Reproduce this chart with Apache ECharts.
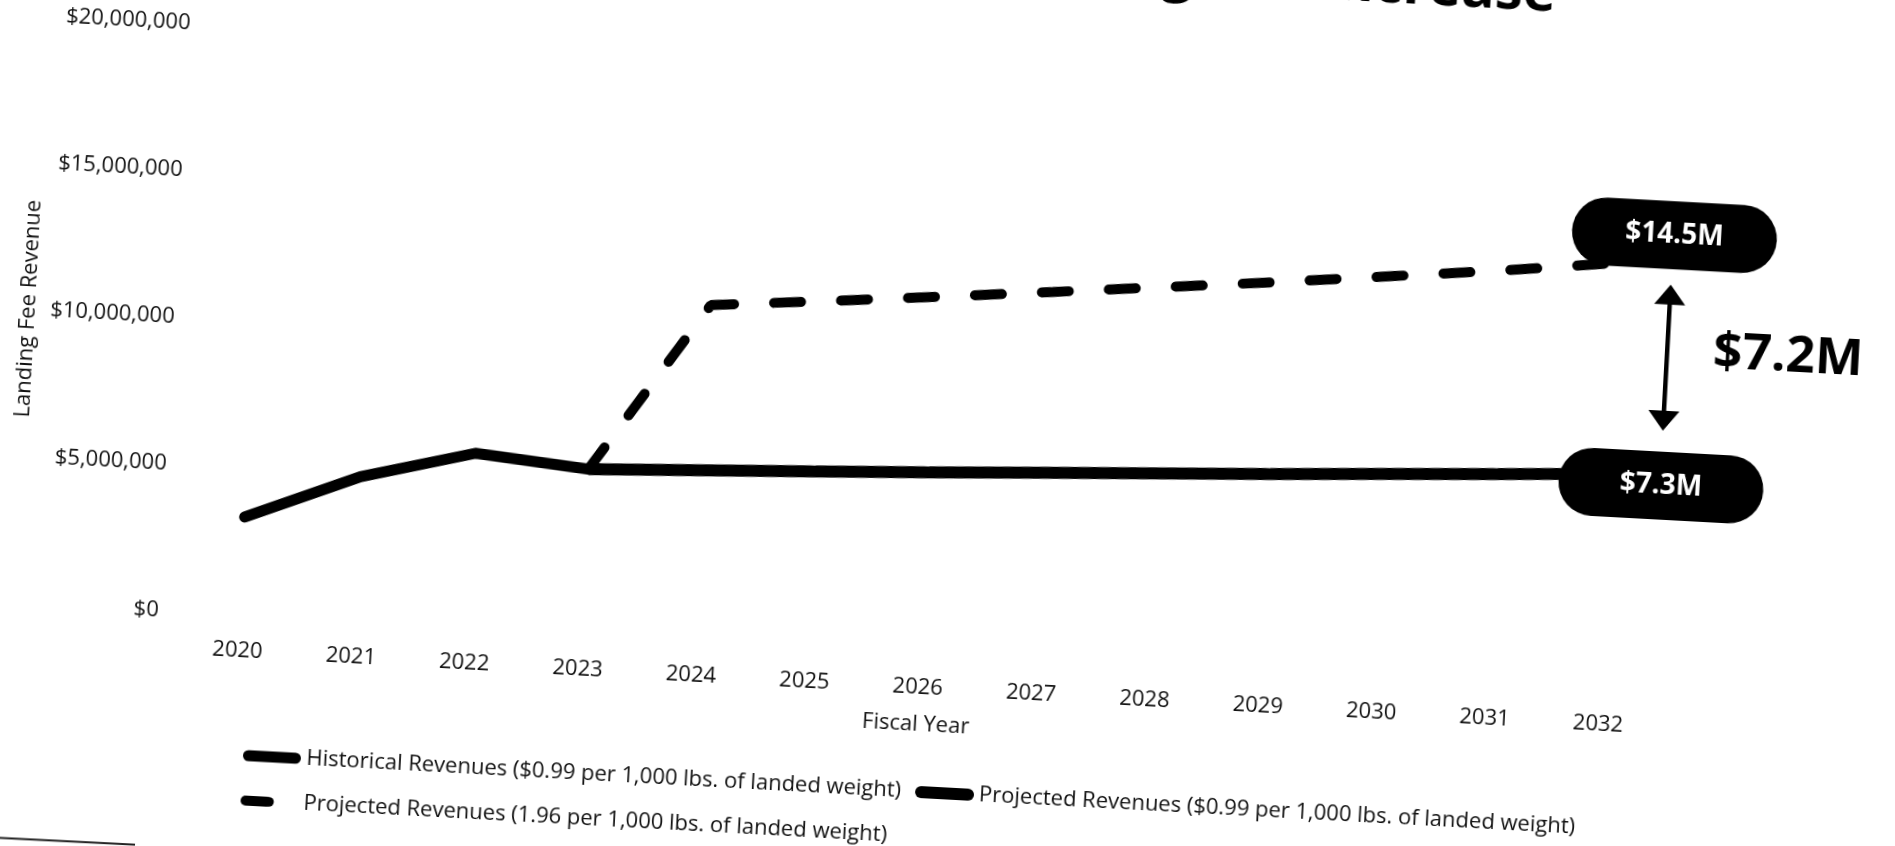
<!DOCTYPE html>
<html>
<head>
<meta charset="utf-8">
<script src="https://cdn.jsdelivr.net/npm/echarts@6/dist/echarts.min.js"></script>
<style>
  html, body { margin: 0; padding: 0; background: #fff; overflow: hidden; width: 1895px; height: 846px; }
  /* the printed page sits slightly tilted */
  #chart { position: absolute; left: -100px; top: -100px; width: 2095px; height: 1046px;
           transform: rotate(3.1deg); transform-origin: 50% 50%; }
</style>
</head>
<body>
<div id="chart"></div>
<script>
// Fiscal years on the category axis
const years = ['2020', '2021', '2022', '2023', '2024', '2025', '2026', '2027', '2028', '2029', '2030', '2031', '2032'];

// Landing fee revenue, US dollars
const historical = [3320000, 4900000, 5910000, 5580000, null, null, null, null, null, null, null, null, null];
const projectedCurrentRate = [null, null, null, 5580000, 5750000, 5920000, 6100000, 6290000, 6480000, 6670000, 6880000, 7080000, 7300000];
const projectedNewRate = [null, null, null, 5580000, 11380000, 11720000, 12080000, 12450000, 12830000, 13210000, 13620000, 14030000, 14500000];

// Value axis ticks
const yTicks = [0, 5000000, 10000000, 15000000, 20000000];

const seriesNames = [
  'Historical Revenues ($0.99 per 1,000 lbs. of landed weight)',
  'Projected Revenues ($0.99 per 1,000 lbs. of landed weight)',
  'Projected Revenues (1.96 per 1,000 lbs. of landed weight)'
];

const FONT = '"Open Sans", "Noto Sans", sans-serif';
const INK = '#111';

const fmtMoney = v => '$' + Math.round(v).toLocaleString('en-US');
const fmtMillions = v => '$' + (v / 1e6).toFixed(1) + 'M';

// black pill carrying the 2032 value
const pill = {
  show: true,
  formatter: p => fmtMillions(p.value),
  color: '#fff',
  fontFamily: FONT,
  fontWeight: 'bold',
  fontSize: 28,
  backgroundColor: '#000',
  borderRadius: 35,
  width: 101,
  padding: [20, 52, 20, 52],
  align: 'center',
  verticalAlign: 'middle',
  distance: 0
};

const legendText = { fontFamily: FONT, fontSize: 22, color: INK, padding: [0, 0, 0, 6] };

const chart = echarts.init(document.getElementById('chart'), null, { renderer: 'canvas' });

const option = {
  animation: false,
  backgroundColor: '#fff',
  textStyle: { fontFamily: FONT, color: INK },
  grid: { left: 294, right: 325, top: 164.5, bottom: 293.5, outerBoundsMode: 'none', containLabel: false },
  legend: [
    {
      data: [seriesNames[0], seriesNames[1]],
      left: 357, top: 877, orient: 'horizontal',
      itemWidth: 47, itemHeight: 12, itemGap: 14,
      textStyle: legendText,
      lineStyle: { width: 'inherit', cap: 'round' },
      selectedMode: false
    },
    {
      data: [seriesNames[2]],
      left: 357, top: 922, orient: 'horizontal',
      itemWidth: 47, itemHeight: 12,
      textStyle: legendText,
      lineStyle: { width: 'inherit', cap: 'round', type: [21, 40] },
      selectedMode: false
    }
  ],
  xAxis: {
    type: 'category',
    data: years,
    boundaryGap: true,
    name: 'Fiscal Year',
    nameLocation: 'middle',
    nameGap: 62,
    nameTextStyle: { fontFamily: FONT, fontSize: 22, color: INK },
    axisLine: { show: false },
    axisTick: { show: false },
    axisLabel: { fontFamily: FONT, fontSize: 22, color: INK, margin: 25, interval: 0 },
    splitLine: { show: false }
  },
  yAxis: {
    type: 'value',
    min: yTicks[0],
    max: yTicks[yTicks.length - 1],
    interval: yTicks[1] - yTicks[0],
    name: 'Landing Fee Revenue',
    nameLocation: 'middle',
    nameRotate: 90,
    nameGap: 157,
    nameTextStyle: { fontFamily: FONT, fontSize: 22, color: INK },
    axisLine: { show: false },
    axisTick: { show: false },
    splitLine: { show: false },
    axisLabel: { fontFamily: FONT, fontSize: 22, color: INK, margin: 24, padding: [13, 0, 0, 0], formatter: fmtMoney }
  },
  series: [
    {
      name: seriesNames[0],
      type: 'line',
      data: historical,
      symbol: 'none',
      color: '#000',
      lineStyle: { color: '#000', width: 11, cap: 'round', join: 'round' },
      z: 3
    },
    {
      name: seriesNames[2],
      type: 'line',
      data: projectedNewRate,
      symbol: 'none',
      color: '#000',
      lineStyle: { color: '#000', width: 10, type: [27, 40], cap: 'round' },
      endLabel: Object.assign({}, pill, { offset: [50, -30] }),
      z: 2
    },
    {
      name: seriesNames[1],
      type: 'line',
      data: projectedCurrentRate,
      symbol: 'none',
      color: '#000',
      lineStyle: { color: '#000', width: 12, cap: 'butt' },
      endLabel: Object.assign({}, pill, { offset: [50, 9] }),
      z: 4
    }
  ]
};

chart.setOption(option);

// Gap annotation between the two 2032 projections, placed with the chart's own scales
const last = years.length - 1;
const highVal = projectedNewRate[last];
const lowVal = projectedCurrentRate[last];
const pHigh = chart.convertToPixel({ xAxisIndex: 0, yAxisIndex: 0 }, [last, highVal]);
const pLow = chart.convertToPixel({ xAxisIndex: 0, yAxisIndex: 0 }, [last, lowVal]);

const ax = pHigh[0] + 49;
const topTip = pHigh[1] + 19.5;
const botTip = pLow[1] - 46;
const headH = 20, headW = 31;
const midY = (topTip + botTip) / 2;

chart.setOption({
  graphic: [
    {
      type: 'line', z: 10,
      shape: { x1: ax, y1: topTip + headH - 2, x2: ax, y2: botTip - headH + 2 },
      style: { stroke: '#000', lineWidth: 4.5 }
    },
    {
      type: 'polygon', z: 10,
      shape: { points: [[ax, topTip], [ax - headW / 2, topTip + headH], [ax + headW / 2, topTip + headH]] },
      style: { fill: '#000' }
    },
    {
      type: 'polygon', z: 10,
      shape: { points: [[ax, botTip], [ax - headW / 2, botTip - headH], [ax + headW / 2, botTip - headH]] },
      style: { fill: '#000' }
    },
    {
      type: 'text', z: 10,
      x: ax + 46, y: midY - 7,
      style: {
        text: fmtMillions(highVal - lowVal),
        font: 'bold 51px ' + FONT,
        fill: '#000',
        align: 'left',
        verticalAlign: 'middle'
      }
    },
    {
      // page title, mostly above the visible area
      type: 'text', z: 10,
      x: 1632, y: 63,
      style: {
        text: 'Landing Fee Increase',
        font: 'bold 56px ' + FONT,
        fill: '#000',
        align: 'right',
        verticalAlign: 'middle'
      }
    },
    {
      // edge of the printed sheet
      type: 'line', z: 1,
      shape: { x1: 0, y1: 989, x2: 259, y2: 988 },
      style: { stroke: '#222', lineWidth: 2 }
    }
  ]
});
</script>
</body>
</html>
